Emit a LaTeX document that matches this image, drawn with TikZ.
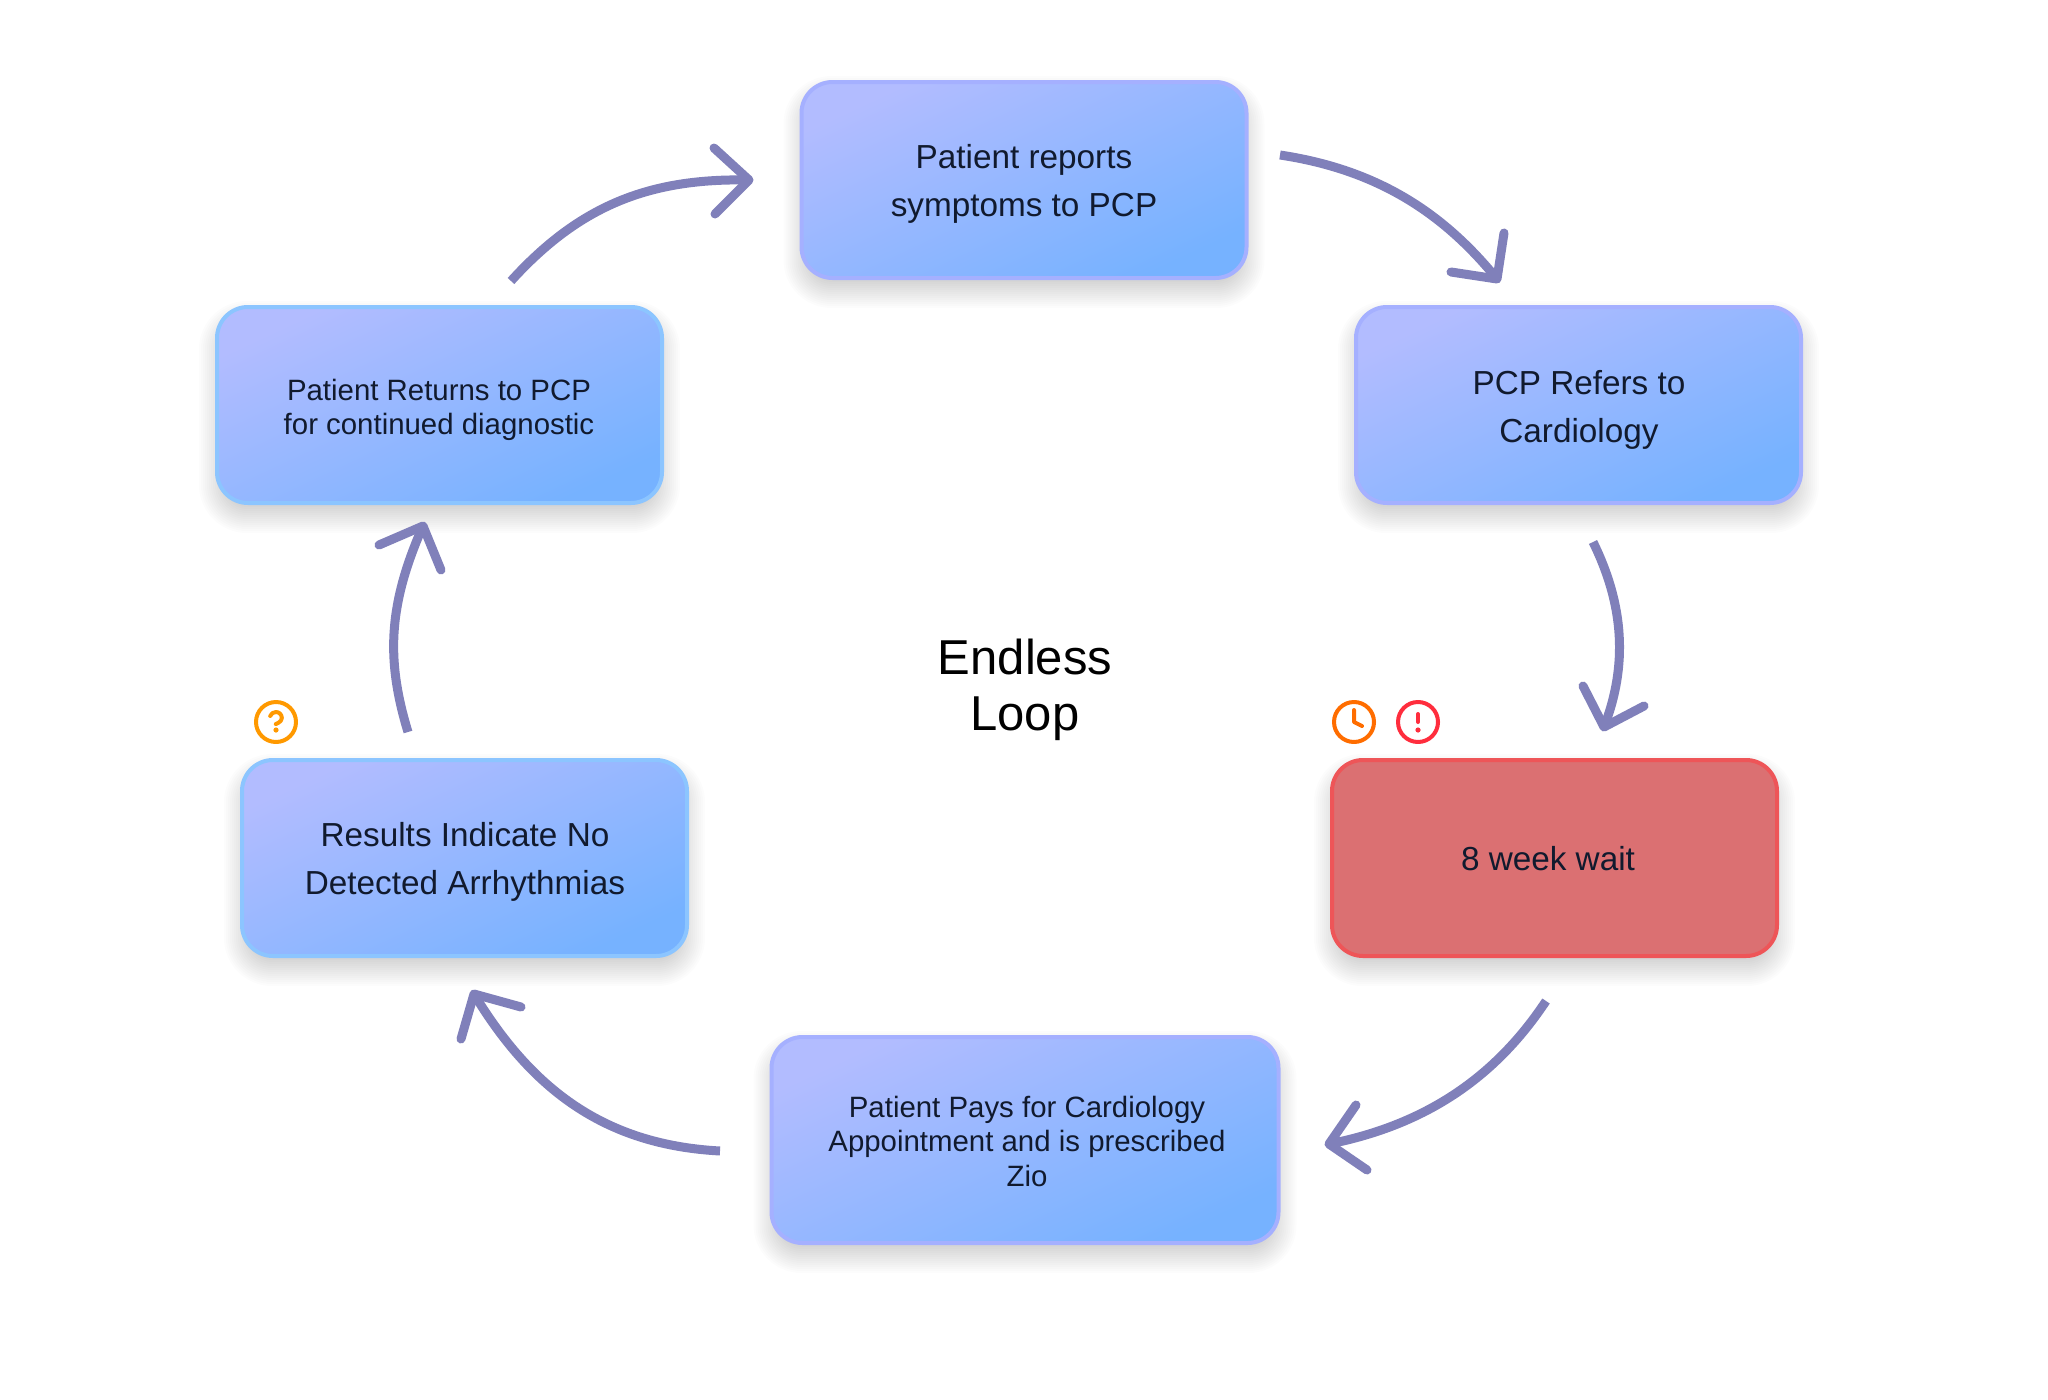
\documentclass[tikz,border=0pt]{standalone}
\usepackage{fontspec}
\setmainfont{Liberation Sans}
\definecolor{tcol}{HTML}{111A2E}
\definecolor{acol}{HTML}{8080BA}
\definecolor{gradA}{HTML}{B2BCFF}
\definecolor{gradB}{HTML}{76B2FF}
\definecolor{edgeL}{HTML}{A5B0FF}
\definecolor{edgeB}{HTML}{8CC5FF}
\definecolor{redF}{HTML}{DB7072}
\definecolor{redE}{HTML}{EE5558}
\definecolor{clockc}{HTML}{FF6D00}
\definecolor{alertc}{HTML}{FF2D3D}
\definecolor{helpc}{HTML}{FF9900}
\tikzset{
  gbox/.style={rectangle,rounded corners=31,line width=4,inner sep=0,outer sep=0,
    left color=gradA,right color=gradB,shading angle=25,draw=#1},
  rbox/.style={rectangle,rounded corners=31,line width=4,inner sep=0,outer sep=0,fill=redF,draw=redE},
  label text/.style={align=center,text=tcol,inner sep=0},
  big/.style={label text,font=\fontsize{33.3}{48}\selectfont},
  small/.style={label text,font=\fontsize{29.4}{34.5}\selectfont},
  flow/.style={draw=acol,line width=9,line cap=butt},
  flowhead/.style={draw=acol,line width=9,line cap=round,line join=round},
  iconbg/.style={fill=white,draw=none},
  iconline/.style={line width=4,line cap=round,line join=round},
}
\newcommand{\softshadow}[4]{%
  \foreach \s in {16,14,...,-14}{%
    \pgfmathsetmacro{\rr}{max(32+\s,6)}%
    \fill[black,opacity=.012,rounded corners=\rr]
      ({#1-#3/2-\s},{#2+12-#4/2-\s}) rectangle ({#1+#3/2+\s},{#2+12+#4/2+\s});
  }%
}
\begin{document}
\begin{tikzpicture}[x=1pt,y=-1pt]
\useasboundingbox (0,0) rectangle (2048,1400);
\fill[white] (0,0) rectangle (2048,1400);
% shadows
\softshadow{1024}{180}{449}{200}
\softshadow{1578.5}{405}{449}{200}
\softshadow{439.5}{405}{449}{200}
\softshadow{1554.5}{858}{449}{200}
\softshadow{464.5}{858}{449}{200}
\softshadow{1025}{1140}{511}{210}
% icon backgrounds
\fill[iconbg] (1330,698) rectangle (1378,746);
\fill[iconbg] (1394,698) rectangle (1442,746);
\fill[iconbg] (252,698) rectangle (300,746);
% boxes
\node[gbox=edgeL,minimum width=445,minimum height=196] (report) at (1024,180) {};
\node[gbox=edgeL,minimum width=445,minimum height=196] (refer) at (1578.5,405) {};
\node[rbox,minimum width=445,minimum height=196] (wait) at (1554.5,858) {};
\node[gbox=edgeL,minimum width=507,minimum height=206] (pays) at (1025,1140) {};
\node[gbox=edgeB,minimum width=445,minimum height=196] (results) at (464.5,858) {};
\node[gbox=edgeB,minimum width=445,minimum height=196] (returns) at (439.5,405) {};
% texts
\node[big] (reportT) at (1024,184) {Patient reports\\symptoms to PCP};
\node[big] (referT) at (1579,410) {PCP Refers to\\Cardiology};
\node[big] (waitT) at (1548,859) {8 week wait};
\node[small] (paysT) at (1027,1141) {Patient Pays for Cardiology\\Appointment and is prescribed\\Zio};
\node[big] (resultsT) at (465,862) {Results Indicate No\\Detected Arrhythmias};
\node[small] (returnsT) at (439,410) {Patient Returns to PCP\\for continued diagnostic};
\node[font=\fontsize{49}{56}\selectfont,align=center,text=black,inner sep=0] (title) at (1025,690) {Endless\\Loop};
% connector end points
\coordinate (a1s) at (1280,155); \coordinate (a1e) at (1497,279);
\coordinate (a1l) at (1504,233); \coordinate (a1r) at (1451,272);
\coordinate (a2s) at (1593,542); \coordinate (a2e) at (1604,727);
\coordinate (a2l) at (1583,686); \coordinate (a2r) at (1644,706);
\coordinate (a3s) at (1546,1001); \coordinate (a3e) at (1329,1144);
\coordinate (a3l) at (1356,1105); \coordinate (a3r) at (1367,1170);
\coordinate (a4s) at (720,1151); \coordinate (a4e) at (474,994);
\coordinate (a4l) at (461,1039); \coordinate (a4r) at (521,1007);
\coordinate (a5s) at (408,732); \coordinate (a5e) at (423,526);
\coordinate (a5l) at (379,545); \coordinate (a5r) at (441,570);
\coordinate (a6s) at (511,281); \coordinate (a6e) at (749,180);
\coordinate (a6l) at (714,148); \coordinate (a6r) at (715,214);
% connectors
\draw[flow] (a1s) .. controls (1380,170) and (1445,215) .. (a1e);
\draw[flowhead] (a1l) -- (a1e) -- (a1r);
\draw[flow] (a2s) .. controls (1624,605) and (1628,665) .. (a2e);
\draw[flowhead] (a2l) -- (a2e) -- (a2r);
\draw[flow] (a3s) .. controls (1495,1078) and (1425,1125) .. (a3e);
\draw[flowhead] (a3l) -- (a3e) -- (a3r);
\draw[flow] (a4s) .. controls (610,1145) and (535,1095) .. (a4e);
\draw[flowhead] (a4l) -- (a4e) -- (a4r);
\draw[flow] (a5s) .. controls (386,660) and (388,605) .. (a5e);
\draw[flowhead] (a5l) -- (a5e) -- (a5r);
\draw[flow] (a6s) .. controls (580,205) and (650,178) .. (a6e);
\draw[flowhead] (a6l) -- (a6e) -- (a6r);
% clock icon
\begin{scope}[shift={(1354,722)}]
  \draw[iconline,clockc] (0,0) circle[radius=20];
  \draw[iconline,clockc] (0,-12) -- (0,0) -- (8,4);
\end{scope}
% alert icon
\begin{scope}[shift={(1418,722)}]
  \draw[iconline,alertc] (0,0) circle[radius=20];
  \draw[iconline,alertc] (0,-8) -- (0,0);
  \fill[alertc] (0,8) circle[radius=2.6];
\end{scope}
% help icon
\begin{scope}[shift={(276,722)}]
  \draw[iconline,helpc] (0,0) circle[radius=20];
  \draw[iconline,helpc] (-5.82,-6) .. controls (-4.98,-8.44) and (-2.58,-10) .. (0,-10)
     .. controls (3.3,-10) and (5.84,-7.3) .. (5.84,-4)
     .. controls (5.84,0) and (-0.16,2) .. (-0.16,2);
  \fill[helpc] (0,8) circle[radius=2.6];
\end{scope}
\end{tikzpicture}
\end{document}
